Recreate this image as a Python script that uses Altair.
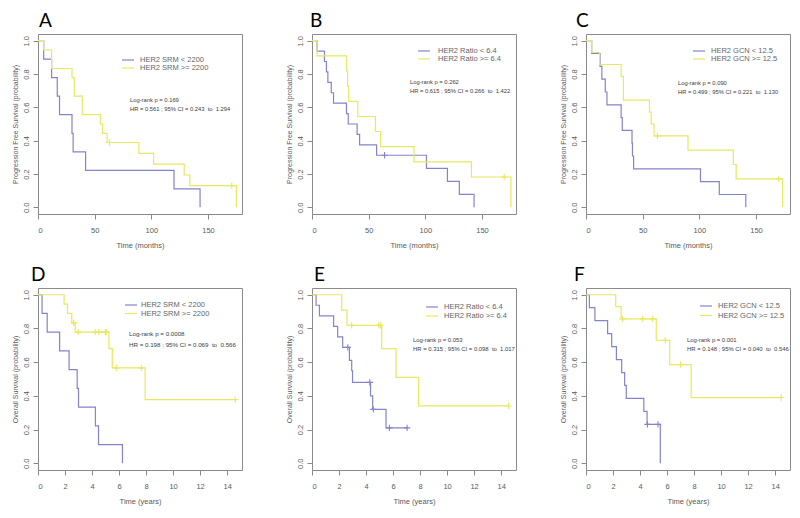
import altair as alt
import pandas as pd

BLUE = "#8484ca"
YELLOW = "#e8e862"
TXT = "#5a5a5a"
FONT = "Liberation Sans"
CROSS = "M-1,0L1,0M0,-1L0,1"

# ---------------- data ----------------
# Panel A: PFS by HER2 SRM (months)
a_lo_t = [0, 5, 12, 17, 19, 30, 31, 42, 120, 143]
a_lo_s = [1, 0.889, 0.778, 0.667, 0.556, 0.444, 0.333, 0.222, 0.111, 0.0]
a_lo_c = []
a_hi_t = [0, 5, 12, 30, 32, 39, 55, 57, 61, 89, 102, 129, 134, 175]
a_hi_s = [1, 0.944, 0.833, 0.778, 0.667, 0.556, 0.5, 0.444, 0.389, 0.324, 0.259, 0.194, 0.130, 0.0]
a_hi_c = [63, 171]

# Panel B: PFS by HER2 Ratio (months)
b_lo_t = [0, 4.5, 11, 12.7, 14, 17, 19, 30.4, 32, 39.8, 42, 57, 101, 119.5, 130, 143]
b_lo_s = [1, 0.9375, 0.875, 0.8125, 0.75, 0.6875, 0.625, 0.5625, 0.5, 0.4375, 0.375, 0.3125, 0.234, 0.156, 0.078, 0.0]
b_lo_c = [64]
b_hi_t = [0, 4.5, 30.4, 31.4, 32.4, 40.4, 56, 60.5, 90, 140.7, 175.5]
b_hi_s = [1, 0.909, 0.818, 0.727, 0.636, 0.545, 0.455, 0.364, 0.273, 0.182, 0.0]
b_hi_c = [169.6]

# Panel C: PFS by HER2 GCN (months)
c_lo_t = [0, 5, 12.4, 14, 17, 18.5, 31, 32, 40.6, 41, 42, 101, 117.6, 141]
c_lo_s = [1, 0.923, 0.846, 0.769, 0.692, 0.615, 0.538, 0.462, 0.385, 0.308, 0.231, 0.154, 0.077, 0.0]
c_lo_c = []
c_hi_t = [0, 5, 12, 31, 33, 56, 57.5, 60, 90, 130, 132.5, 173.5]
c_hi_s = [1, 0.929, 0.857, 0.786, 0.643, 0.571, 0.5, 0.429, 0.343, 0.257, 0.171, 0.0]
c_hi_c = [63, 170]

# Panel D: OS by HER2 SRM (years)
d_lo_t = [0, 0.3, 0.68, 1.6, 2.3, 2.9, 3.0, 4.25, 4.48, 6.25]
d_lo_s = [1, 0.889, 0.778, 0.667, 0.556, 0.444, 0.333, 0.222, 0.111, 0.0]
d_lo_c = []
d_hi_t = [0, 1.93, 2.18, 2.5, 2.75, 5.25, 5.5, 7.93]
d_hi_s = [1, 0.944, 0.889, 0.833, 0.778, 0.68, 0.566, 0.378]
d_hi_c = [2.65, 2.98, 4.23, 4.5, 4.98, 5.05, 5.8, 7.65, 14.6]

# Panel E: OS by HER2 Ratio (years)
e_lo_t = [0, 0.3, 0.55, 1.6, 1.9, 2.27, 2.77, 2.94, 3.0, 4.33, 4.49, 5.48]
e_lo_s = [1, 0.9375, 0.875, 0.8125, 0.75, 0.6875, 0.61, 0.55, 0.48, 0.40, 0.32, 0.21]
e_lo_c = [2.65, 4.28, 4.54, 5.73, 7.04]
e_hi_t = [0, 2.2, 2.59, 5.16, 6.22, 7.88]
e_hi_s = [1, 0.909, 0.818, 0.68, 0.51, 0.34]
e_hi_c = [2.94, 4.94, 5.06, 14.54]

# Panel F: OS by HER2 GCN (years)
f_lo_t = [0, 0.25, 0.66, 1.6, 1.9, 2.25, 2.64, 2.86, 2.98, 4.28, 4.52, 5.5]
f_lo_s = [1, 0.923, 0.846, 0.769, 0.692, 0.615, 0.538, 0.462, 0.385, 0.308, 0.231, 0.0]
f_lo_c = [4.55, 5.33]
f_hi_t = [0, 2.2, 2.6, 5.2, 6.2, 7.78]
f_hi_s = [1, 0.929, 0.857, 0.73, 0.585, 0.39]
f_hi_c = [2.7, 4.2, 4.93, 5.87, 7.0, 14.45]

months_ticks = [0, 50, 100, 150]
years_ticks = [0, 2, 4, 6, 8, 10, 12, 14]
y_ticks = [0, 0.2, 0.4, 0.6, 0.8, 1.0]

labels_srm = ["HER2 SRM < 2200", "HER2 SRM >= 2200"]
labels_ratio = ["HER2 Ratio < 6.4", "HER2 Ratio >= 6.4"]
labels_gcn = ["HER2 GCN < 12.5", "HER2 GCN >= 12.5"]

stats_a = ["Log-rank p = 0.169", "HR = 0.561 ; 95% CI = 0.243 \u00a0to\u00a0 1.294"]
stats_b = ["Log-rank p = 0.262", "HR = 0.615 ; 95% CI = 0.266 \u00a0to\u00a0 1.422"]
stats_c = ["Log-rank p = 0.090", "HR = 0.499 ; 95% CI = 0.221 \u00a0to\u00a0 1.130"]
stats_d = ["Log-rank p = 0.0008", "HR = 0.198 ; 95% CI = 0.069 \u00a0to\u00a0 0.566"]
stats_e = ["Log-rank p = 0.053", "HR = 0.315 ; 95% CI = 0.098 \u00a0to\u00a0 1.017"]
stats_f = ["Log-rank p = 0.001", "HR = 0.148 ; 95% CI = 0.040 \u00a0to\u00a0 0.546"]


def surv_at(t, s, x):
    v = s[0]
    for ti, si in zip(t, s):
        if ti <= x:
            v = si
    return v


def curve_frames(t, s, c):
    tt, ss = list(t), list(s)
    if c and max(c) > tt[-1]:
        tt.append(max(c))
        ss.append(ss[-1])
    line = pd.DataFrame({"t": tt, "s": ss})
    cens = pd.DataFrame({"t": c, "s": [surv_at(t, s, x) for x in c]})
    return line, cens


W = 204


def panel(letter, dx, lo, hi, xdom, xvals, xtitle, ytitle, labels, stats, leg, stat, hr_size, h):
    x = alt.X("t:Q", scale=alt.Scale(domain=xdom, nice=False, zero=False),
              axis=alt.Axis(values=xvals, title=xtitle, format="d"))
    y = alt.Y("s:Q", scale=alt.Scale(domain=[-0.04, 1.04], nice=False),
              axis=alt.Axis(values=y_ticks, format=".1f", title=ytitle,
                            labelAngle=270, labelAlign="center", labelBaseline="bottom"))
    layers = []
    for (t, s, c), col in ((lo, BLUE), (hi, YELLOW)):
        line, cens = curve_frames(t, s, c)
        layers.append(alt.Chart(line).mark_line(interpolate="step-after", color=col,
                                                strokeWidth=1.2).encode(x=x, y=y))
        if len(cens):
            layers.append(alt.Chart(cens).mark_point(shape=CROSS, filled=False, color=col,
                                                     size=40, strokeWidth=1.1, opacity=1).encode(x=x, y=y))
    lx, ly, tx, dy = leg
    for i, (lab, col) in enumerate(zip(labels, (BLUE, YELLOW))):
        yy = ly + i * dy
        df = pd.DataFrame({"k": [lab]})
        layers.append(alt.Chart(df).mark_rule(color=col, strokeWidth=1.2).encode(
            x=alt.value(lx), x2=alt.value(lx + 12), y=alt.value(yy)))
        layers.append(alt.Chart(df).mark_text(align="left", baseline="middle", fontSize=7.5,
                                              font=FONT, color="#666666").encode(
            x=alt.value(tx), y=alt.value(yy), text="k:N"))
    sx, sy, sdy = stat
    for i, txt in enumerate(stats):
        df = pd.DataFrame({"k": [txt]})
        layers.append(alt.Chart(df).mark_text(align="left", baseline="middle", fontSize=hr_size,
                                              font=FONT, color="#3c3c3c").encode(
            x=alt.value(sx), y=alt.value(sy + i * sdy), text="k:N"))
    return alt.layer(*layers).properties(
        width=W, height=h,
        title=alt.TitleParams(letter, anchor="start", frame="group", dx=dx, fontSize=19,
                              font="Lato", fontWeight="normal", color="black", offset=3))


PFS = "Progression Free Survival (probability)"
OS = "Overall Survival (probability)"
MDOM = [0, 180]
YDOM = [0, 15.1]

pa = panel("A", 1, (a_lo_t, a_lo_s, a_lo_c), (a_hi_t, a_hi_s, a_hi_c), MDOM, months_ticks,
           "Time (months)", PFS, labels_srm, stats_a, (84, 26, 102, 8), (92, 66, 9), 5.8, 180)
pb = panel("B", -2, (b_lo_t, b_lo_s, b_lo_c), (b_hi_t, b_hi_s, b_hi_c), MDOM, months_ticks,
           "Time (months)", PFS, labels_ratio, stats_b, (106, 17, 126, 8), (98, 48, 8.5), 5.8, 180)
pc = panel("C", -10, (c_lo_t, c_lo_s, c_lo_c), (c_hi_t, c_hi_s, c_hi_c), MDOM, months_ticks,
           "Time (months)", PFS, labels_gcn, stats_c, (107, 17, 125, 8), (92, 49, 8.5), 5.8, 180)
pd_ = panel("D", -7, (d_lo_t, d_lo_s, d_lo_c), (d_hi_t, d_hi_s, d_hi_c), YDOM, years_ticks,
            "Time (years)", OS, labels_srm, stats_d, (87, 17, 103, 8.5), (91, 46, 10.5), 6.2, 182)
pe = panel("E", 2, (e_lo_t, e_lo_s, e_lo_c), (e_hi_t, e_hi_s, e_hi_c), YDOM, years_ticks,
           "Time (years)", OS, labels_ratio, stats_e, (114, 19, 132, 9), (101, 52, 9), 5.9, 182)
pf = panel("F", -12, (f_lo_t, f_lo_s, f_lo_c), (f_hi_t, f_hi_s, f_hi_c), YDOM, years_ticks,
           "Time (years)", OS, labels_gcn, stats_f, (114, 18, 132, 9.5), (101, 52, 9), 5.9, 182)

row1 = alt.hconcat(pa, pb, pc, spacing=41)
row2 = alt.hconcat(pd_, pe, pf, spacing=41)

chart = alt.vconcat(row1, row2, spacing=15).properties(
    padding={"left": 2, "top": 3, "right": 0, "bottom": 0}, background="white"
).configure_view(
    stroke="#8a8a8a", strokeWidth=1
).configure_axis(
    domain=False, grid=False, ticks=True, tickSize=5, tickColor="#8a8a8a",
    labelFont=FONT, labelFontSize=7.5, labelColor=TXT,
    titleFont=FONT, titleColor=TXT, titleFontWeight="normal"
).configure_axisX(
    labelPadding=7, titlePadding=8, titleFontSize=7.5
).configure_axisY(
    labelPadding=3, titlePadding=4, titleFontSize=7
)

chart.save("out.html", embed_options={"renderer": "svg", "actions": False})
